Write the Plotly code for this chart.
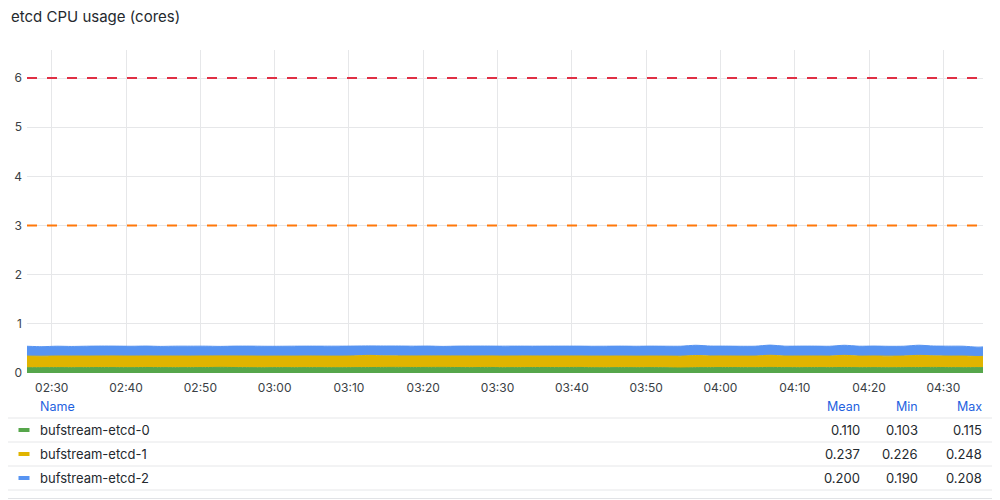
import pandas as pd
import plotly.graph_objects as go

# sample times (2 minute step)
times = pd.date_range("2024-01-01 02:26:40", periods=66, freq="2min")

series_names = ["bufstream-etcd-0", "bufstream-etcd-1", "bufstream-etcd-2"]
series_colors = ["#56A64B", "#E0B400", "#5794F2"]

etcd0 = [0.108, 0.109, 0.110, 0.109, 0.110, 0.111, 0.110, 0.109, 0.112, 0.110, 0.109, 0.110,
         0.111, 0.115, 0.111, 0.109, 0.108, 0.110, 0.109, 0.110, 0.109, 0.108, 0.110, 0.111,
         0.113, 0.114, 0.112, 0.113, 0.114, 0.111, 0.110, 0.113, 0.109, 0.110, 0.111, 0.112,
         0.110, 0.113, 0.109, 0.108, 0.110, 0.109, 0.110, 0.108, 0.103, 0.109, 0.110, 0.111,
         0.110, 0.109, 0.113, 0.110, 0.109, 0.111, 0.110, 0.112, 0.109, 0.110, 0.108, 0.110,
         0.111, 0.113, 0.110, 0.109, 0.110, 0.110]
etcd1 = [0.236, 0.233, 0.236, 0.237, 0.235, 0.236, 0.237, 0.236, 0.235, 0.236, 0.237, 0.235,
         0.236, 0.233, 0.236, 0.237, 0.236, 0.235, 0.236, 0.237, 0.236, 0.236, 0.238, 0.248,
         0.236, 0.234, 0.235, 0.235, 0.234, 0.236, 0.237, 0.235, 0.236, 0.237, 0.236, 0.235,
         0.236, 0.234, 0.236, 0.237, 0.236, 0.235, 0.236, 0.237, 0.240, 0.247, 0.237, 0.236,
         0.235, 0.236, 0.248, 0.236, 0.237, 0.236, 0.235, 0.247, 0.236, 0.237, 0.235, 0.236,
         0.248, 0.236, 0.235, 0.236, 0.226, 0.236]
etcd2 = [0.200, 0.193, 0.199, 0.194, 0.200, 0.201, 0.200, 0.199, 0.201, 0.195, 0.200, 0.201,
         0.199, 0.193, 0.200, 0.201, 0.200, 0.199, 0.201, 0.200, 0.201, 0.202, 0.200, 0.192,
         0.200, 0.201, 0.199, 0.200, 0.193, 0.200, 0.201, 0.200, 0.201, 0.200, 0.199, 0.200,
         0.201, 0.200, 0.199, 0.200, 0.201, 0.200, 0.201, 0.200, 0.202, 0.208, 0.201, 0.200,
         0.199, 0.200, 0.206, 0.200, 0.201, 0.200, 0.199, 0.205, 0.200, 0.201, 0.200, 0.199,
         0.206, 0.200, 0.201, 0.200, 0.190, 0.200]

stat_means = ["0.110", "0.237", "0.200"]
stat_mins = ["0.103", "0.226", "0.190"]
stat_maxs = ["0.115", "0.248", "0.208"]

thresholds = [3, 6]
threshold_colors = ["#FF780A", "#E02F44"]

x_ticks = pd.date_range("2024-01-01 02:30", "2024-01-01 04:30", freq="10min")
y_ticks = [0, 1, 2, 3, 4, 5, 6]

# the page puts the figure 8px in from the window corner
OFF = 8
W, H = 1000 - OFF, 500 - OFF
# plot area in window pixels
L, R, T, B = 27, 983, 50, 373


def px(x):
    return (x - L) / (R - L)


def py(y):
    return (B - y) / (B - T)


fig = go.Figure()
for name, vals, color in zip(series_names, [etcd0, etcd1, etcd2], series_colors):
    fig.add_trace(go.Scatter(
        x=times, y=vals, name=name, mode="lines", stackgroup="one",
        line=dict(color=color, width=1, shape="spline", smoothing=0.6),
        fillcolor=color,
    ))

for t, c in zip(thresholds, threshold_colors):
    fig.add_shape(type="line", xref="paper", yref="y", x0=0, x1=1, y0=t, y1=t,
                  line=dict(color=c, width=2, dash="10px,10px"))

shapes = []
# panel border (right and bottom edges are the only ones inside the window)
shapes.append(dict(type="line", xref="paper", yref="paper", x0=px(998.5), x1=px(998.5),
                   y0=py(499), y1=py(OFF), line=dict(color="#E1E3E6", width=1)))
shapes.append(dict(type="line", xref="paper", yref="paper", x0=px(OFF), x1=px(999),
                   y0=py(498.5), y1=py(498.5), line=dict(color="#E1E3E6", width=1)))
# legend separators
for yy in [418, 442, 466, 490]:
    shapes.append(dict(type="line", xref="paper", yref="paper", x0=px(8), x1=px(992),
                       y0=py(yy), y1=py(yy), line=dict(color="#E6E7E9", width=1)))
# legend swatches
for i, c in enumerate(series_colors):
    yy = 430 + 24 * i
    shapes.append(dict(type="line", xref="paper", yref="paper", x0=px(18.5), x1=px(29.5),
                       y0=py(yy), y1=py(yy), line=dict(color=c, width=4)))
for s in shapes:
    fig.add_shape(**s)

ann = []
ann.append(dict(text="etcd CPU usage (cores)", x=px(9), y=py(17), xanchor="left", yanchor="middle",
                font=dict(size=15, color="#24292E", family="Inter")))
head_font = dict(size=12.5, color="#1F62E0", family="Inter")
ann.append(dict(text="Name", x=px(37.5), y=py(406), xanchor="left", yanchor="middle", font=head_font))
for label, xr in [("Mean", 861.5), ("Min", 919.5), ("Max", 983.5)]:
    ann.append(dict(text=label, x=px(xr), y=py(406), xanchor="right", yanchor="middle", font=head_font))
row_font = dict(size=13, color="#24292E", family="Inter")
for i, name in enumerate(series_names):
    yy = 430 + 24 * i
    ann.append(dict(text=name, x=px(37.5), y=py(yy), xanchor="left", yanchor="middle", font=row_font))
    for val, xr in [(stat_means[i], 861.5), (stat_mins[i], 919.5), (stat_maxs[i], 983.5)]:
        ann.append(dict(text=val, x=px(xr), y=py(yy), xanchor="right", yanchor="middle", font=row_font))
for a in ann:
    fig.add_annotation(xref="paper", yref="paper", showarrow=False, **a)

fig.update_layout(
    width=W, height=H,
    margin=dict(l=L - OFF, r=1000 - R, t=T - OFF, b=500 - B, autoexpand=False),
    paper_bgcolor="white", plot_bgcolor="white",
    showlegend=False,
    font=dict(family="Inter", size=12, color="#3A3F45"),
    xaxis=dict(
        range=["2024-01-01 02:26:40", "2024-01-01 04:35:20"],
        tickvals=x_ticks, ticktext=[t.strftime("%H:%M") for t in x_ticks],
        showgrid=True, gridcolor="#E6E7E9", zeroline=False, showline=False,
        ticks="", ticklabelstandoff=6, automargin=False,
    ),
    yaxis=dict(
        range=[0, 6.57], tickvals=y_ticks,
        showgrid=True, gridcolor="#E6E7E9", zeroline=False, showline=False,
        ticks="", ticklabelstandoff=4, automargin=False,
    ),
)

fig.write_html("out.html")
